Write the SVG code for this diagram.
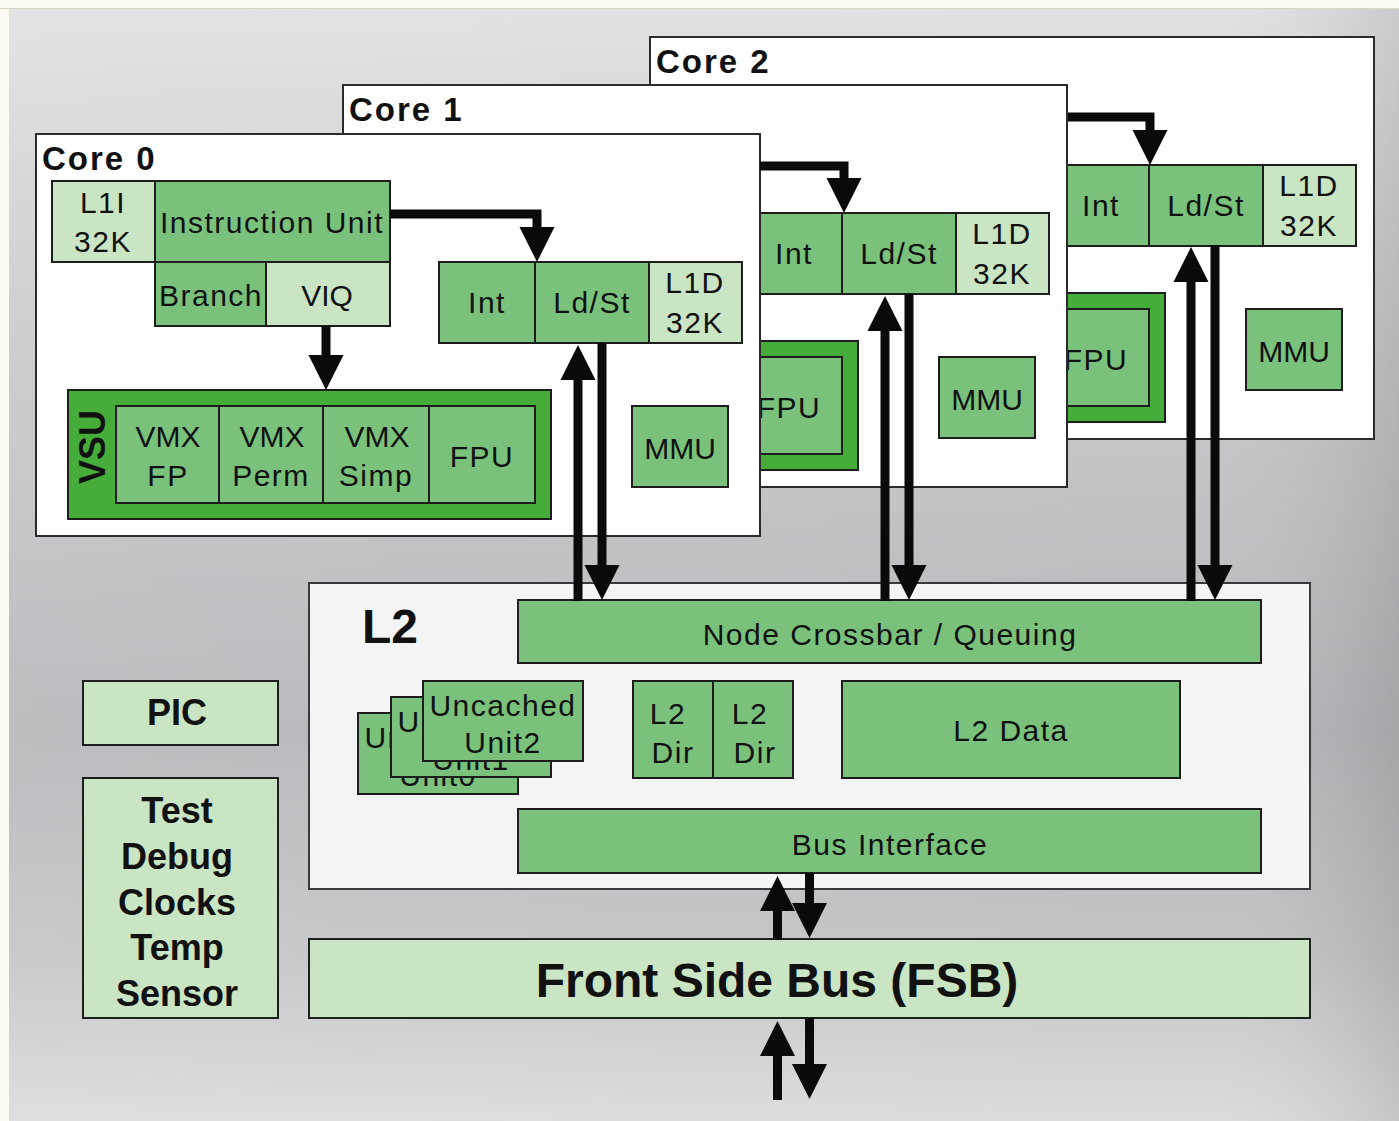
<svg xmlns="http://www.w3.org/2000/svg" width="1399" height="1121" viewBox="0 0 1399 1121">
  <defs>
    <linearGradient id="bgV" x1="0" y1="0" x2="0" y2="1">
      <stop offset="0" stop-color="#e0e1e1"/>
      <stop offset="0.3" stop-color="#c9cacc"/>
      <stop offset="0.65" stop-color="#b6b7ba"/>
      <stop offset="0.85" stop-color="#c4c5c7"/>
      <stop offset="1" stop-color="#dcdcdc"/>
    </linearGradient>
    <linearGradient id="bgH" x1="0" y1="0" x2="1" y2="0">
      <stop offset="0" stop-color="#ffffff" stop-opacity="0.08"/>
      <stop offset="0.85" stop-color="#ffffff" stop-opacity="0"/>
      <stop offset="1" stop-color="#000000" stop-opacity="0.1"/>
    </linearGradient>
    <marker id="head" markerUnits="userSpaceOnUse" viewBox="0 -18 35 36" refX="1" refY="0" markerWidth="35" markerHeight="36" orient="auto">
      <path d="M0,-17.5 L35,0 L0,17.5 Z" fill="#0a0a0a"/>
    </marker>
    <style>
      .core { fill: #ffffff; stroke: #2b2b2b; stroke-width: 2; }
      .md { fill: #7ac27b; stroke: #1e1e1e; stroke-width: 2; }
      .lt { fill: #c9e5c3; stroke: #1e1e1e; stroke-width: 2; }
      .vsu { fill: #46ad3b; stroke: #1e1e1e; stroke-width: 2; }
      .l2box { fill: #f4f4f4; stroke: #3a3a3a; stroke-width: 2; }
      text { font-family: "Liberation Sans", Arial, sans-serif; fill: #111111; }
      .t { font-size: 30px; letter-spacing: 1.5px; text-anchor: middle; }
      .tn { font-size: 30px; letter-spacing: 0px; text-anchor: middle; }
      .title { font-size: 33px; font-weight: bold; letter-spacing: 2px; }
      .b36 { font-size: 36px; font-weight: bold; text-anchor: middle; }
      .b48 { font-size: 48px; font-weight: bold; }
      .link { fill: none; stroke: #0a0a0a; stroke-width: 9; stroke-linejoin: miter; }
    </style>
  </defs>

  <!-- backdrop -->
  <rect x="0" y="0" width="1399" height="1121" fill="#fbfaf3"/>
  <rect x="9" y="9" width="1390" height="1112" fill="url(#bgV)"/>
  <rect x="9" y="9" width="1390" height="1112" fill="url(#bgH)"/>
  <line x1="0" y1="8.5" x2="1399" y2="8.5" stroke="#d9d6c3" stroke-width="1"/>

  <!-- Core 2 (furthest back) -->
  <g id="core2" transform="translate(614,-97)">
    <rect class="core" x="36" y="134" width="724" height="402"/>
    <text class="title" x="42" y="170">Core 2</text>
    <rect class="vsu" x="68" y="390" width="483" height="129"/>
    <rect class="md" x="429" y="406" width="106" height="97"/>
    <text class="t" x="482" y="467">FPU</text>
    <rect class="md" x="439" y="262" width="96" height="81"/>
    <text class="t" x="487" y="313">Int</text>
    <rect class="md" x="535" y="262" width="114" height="81"/>
    <text class="t" x="592" y="313">Ld/St</text>
    <rect class="lt" x="649" y="262" width="93" height="81"/>
    <text class="t" x="695" y="293">L1D</text>
    <text class="t" x="695" y="333">32K</text>
    <rect class="md" x="632" y="406" width="96" height="81"/>
    <text class="tn" x="680" y="459">MMU</text>
  </g>

  <!-- Core 1 -->
  <g id="core1" transform="translate(307,-49)">
    <rect class="core" x="36" y="134" width="724" height="402"/>
    <text class="title" x="42" y="170">Core 1</text>
    <rect class="vsu" x="68" y="390" width="483" height="129"/>
    <rect class="md" x="429" y="406" width="106" height="97"/>
    <text class="t" x="482" y="467">FPU</text>
    <rect class="md" x="439" y="262" width="96" height="81"/>
    <text class="t" x="487" y="313">Int</text>
    <rect class="md" x="535" y="262" width="114" height="81"/>
    <text class="t" x="592" y="313">Ld/St</text>
    <rect class="lt" x="649" y="262" width="93" height="81"/>
    <text class="t" x="695" y="293">L1D</text>
    <text class="t" x="695" y="333">32K</text>
    <rect class="md" x="632" y="406" width="96" height="81"/>
    <text class="tn" x="680" y="459">MMU</text>
  </g>

  <!-- Core 0 (front) -->
  <g id="core0">
    <rect class="core" x="36" y="134" width="724" height="402"/>
    <text class="title" x="42" y="170">Core 0</text>
    <g id="l1i">
      <rect class="lt" x="52" y="181" width="103" height="81"/>
      <text class="t" x="103" y="213">L1I</text>
      <text class="t" x="103" y="252">32K</text>
    </g>
    <g id="instruction-unit">
      <rect class="md" x="155" y="181" width="235" height="81"/>
      <text class="t" x="272" y="233">Instruction Unit</text>
    </g>
    <g id="branch">
      <rect class="md" x="155" y="262" width="111" height="64"/>
      <text class="t" x="211" y="306">Branch</text>
    </g>
    <g id="viq">
      <rect class="lt" x="266" y="262" width="124" height="64"/>
      <text class="tn" x="327" y="306">VIQ</text>
    </g>
    <g id="vsu">
      <rect class="vsu" x="68" y="390" width="483" height="129"/>
      <text class="b36" transform="translate(105,447) rotate(-90)">VSU</text>
      <rect class="md" x="116" y="406" width="103" height="97"/>
      <text class="tn" x="168" y="447">VMX</text>
      <text class="t" x="168" y="486">FP</text>
      <rect class="md" x="219" y="406" width="104" height="97"/>
      <text class="tn" x="272" y="447">VMX</text>
      <text class="t" x="271" y="486">Perm</text>
      <rect class="md" x="323" y="406" width="106" height="97"/>
      <text class="tn" x="377" y="447">VMX</text>
      <text class="t" x="376" y="486">Simp</text>
      <rect class="md" x="429" y="406" width="106" height="97"/>
      <text class="t" x="482" y="467">FPU</text>
    </g>
    <g id="int-ldst-l1d">
      <rect class="md" x="439" y="262" width="96" height="81"/>
      <text class="t" x="487" y="313">Int</text>
      <rect class="md" x="535" y="262" width="114" height="81"/>
      <text class="t" x="592" y="313">Ld/St</text>
      <rect class="lt" x="649" y="262" width="93" height="81"/>
      <text class="t" x="695" y="293">L1D</text>
      <text class="t" x="695" y="333">32K</text>
    </g>
    <g id="mmu">
      <rect class="md" x="632" y="406" width="96" height="81"/>
      <text class="tn" x="680" y="459">MMU</text>
    </g>
  </g>

  <!-- L2 block -->
  <g id="l2">
    <rect class="l2box" x="309" y="583" width="1001" height="306"/>
    <text class="b48" x="362" y="643">L2</text>
  </g>
  <g id="crossbar">
    <rect class="md" x="518" y="600" width="743" height="63"/>
    <text class="t" x="890" y="645">Node Crossbar / Queuing</text>
  </g>
  <g id="uncached0">
    <rect class="md" x="358" y="713" width="160" height="81"/>
    <text class="t" x="438" y="748">Uncached</text>
    <text class="t" x="438" y="786">Unit0</text>
  </g>
  <g id="uncached1">
    <rect class="md" x="391" y="697" width="160" height="80"/>
    <text class="t" x="471" y="732">Uncached</text>
    <text class="t" x="471" y="770">Unit1</text>
  </g>
  <g id="uncached2">
    <rect class="md" x="423" y="681" width="160" height="80"/>
    <text class="t" x="503" y="716">Uncached</text>
    <text class="t" x="503" y="753">Unit2</text>
  </g>
  <g id="l2dir-a">
    <rect class="md" x="633" y="681" width="80" height="97"/>
    <text class="t" x="668" y="724">L2</text>
    <text class="t" x="673" y="763">Dir</text>
  </g>
  <g id="l2dir-b">
    <rect class="md" x="713" y="681" width="80" height="97"/>
    <text class="t" x="750" y="724">L2</text>
    <text class="t" x="755" y="763">Dir</text>
  </g>
  <g id="l2data">
    <rect class="md" x="842" y="681" width="338" height="97"/>
    <text class="t" x="1011" y="741">L2 Data</text>
  </g>
  <g id="bus-interface">
    <rect class="md" x="518" y="809" width="743" height="64"/>
    <text class="t" x="890" y="855">Bus Interface</text>
  </g>

  <!-- chip-level blocks -->
  <g id="pic">
    <rect class="lt" x="83" y="681" width="195" height="64"/>
    <text class="b36" x="177" y="725">PIC</text>
  </g>
  <g id="test-debug">
    <rect class="lt" x="83" y="778" width="195" height="240"/>
    <text class="b36" x="177" y="823">Test</text>
    <text class="b36" x="177" y="869">Debug</text>
    <text class="b36" x="177" y="915">Clocks</text>
    <text class="b36" x="177" y="960">Temp</text>
    <text class="b36" x="177" y="1006">Sensor</text>
  </g>
  <g id="fsb">
    <rect class="lt" x="309" y="939" width="1001" height="79"/>
    <text class="b48" x="777" y="997" text-anchor="middle">Front Side Bus (FSB)</text>
  </g>

  <!-- connectors -->
  <g id="connectors">
    <!-- instruction fetch to load/store, per core -->
    <path class="link" d="M390,214 H537 V228" marker-end="url(#head)"/>
    <path class="link" d="M760,166 H844 V179" marker-end="url(#head)"/>
    <path class="link" d="M1068,117 H1150 V131" marker-end="url(#head)"/>
    <!-- issue to VSU -->
    <path class="link" d="M326,326 V356" marker-end="url(#head)"/>
    <!-- load/store <-> crossbar -->
    <path class="link" d="M578,601 V379" marker-end="url(#head)"/>
    <path class="link" d="M602,343 V566" marker-end="url(#head)"/>
    <path class="link" d="M885,601 V330" marker-end="url(#head)"/>
    <path class="link" d="M909,294 V566" marker-end="url(#head)"/>
    <path class="link" d="M1191,601 V281" marker-end="url(#head)"/>
    <path class="link" d="M1215,245 V566" marker-end="url(#head)"/>
    <!-- bus interface <-> FSB -->
    <path class="link" d="M777.5,940 V910" marker-end="url(#head)"/>
    <path class="link" d="M809.5,873 V904" marker-end="url(#head)"/>
    <!-- FSB <-> off-chip -->
    <path class="link" d="M777.5,1100 V1055" marker-end="url(#head)"/>
    <path class="link" d="M809.5,1018 V1065" marker-end="url(#head)"/>
  </g>
</svg>
